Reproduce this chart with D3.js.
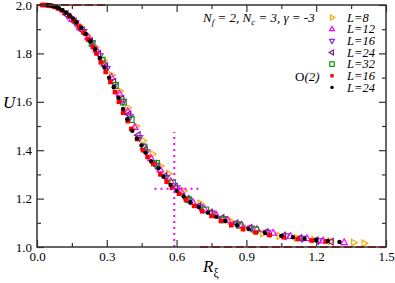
<!DOCTYPE html>
<html>
<head>
<meta charset="utf-8">
<script src="https://cdn.jsdelivr.net/npm/d3@7"></script>
<style>
body { margin: 0; background: #fff; }
svg text { font-family: "Liberation Serif", Tinos, "Times New Roman", Times, "DejaVu Serif", serif !important; fill: #000; }
</style>
</head>
<body>
<div id="chart"></div>
<script>
// FSS data, L = 8..32
var L8_R = [0.18, 0.215, 0.25, 0.285, 0.32, 0.355, 0.39, 0.425, 0.455, 0.496, 0.53, 0.565, 0.63, 0.70, 0.76, 0.83, 0.895, 0.97, 1.04, 1.115, 1.19, 1.26, 1.36, 1.405];
var L8_U = [1.915, 1.875, 1.825, 1.77, 1.71, 1.645, 1.575, 1.50, 1.44, 1.384, 1.335, 1.303, 1.232, 1.18, 1.142, 1.108, 1.078, 1.056, 1.046, 1.038, 1.03, 1.024, 1.018, 1.015];
var L12_R = [0.15, 0.185, 0.22, 0.255, 0.29, 0.32, 0.355, 0.39, 0.42, 0.46, 0.49, 0.53, 0.575, 0.62, 0.67, 0.72, 0.77, 0.82, 0.88, 0.945, 1.015, 1.09, 1.16, 1.23, 1.32];
var L12_U = [1.941, 1.906, 1.865, 1.814, 1.756, 1.70, 1.632, 1.559, 1.494, 1.412, 1.365, 1.318, 1.27, 1.228, 1.184, 1.156, 1.131, 1.11, 1.09, 1.072, 1.057, 1.043, 1.034, 1.025, 1.018];
var L16_R = [0.13, 0.165, 0.20, 0.235, 0.27, 0.30, 0.335, 0.37, 0.40, 0.44, 0.47, 0.51, 0.555, 0.60, 0.65, 0.70, 0.75, 0.80, 0.86, 0.92, 0.99, 1.07, 1.14, 1.21];
var L16_U = [1.958, 1.927, 1.89, 1.844, 1.79, 1.738, 1.672, 1.601, 1.538, 1.452, 1.394, 1.338, 1.288, 1.245, 1.196, 1.166, 1.14, 1.118, 1.096, 1.078, 1.061, 1.046, 1.036, 1.027];
var L24_R = [0.125, 0.16, 0.195, 0.23, 0.265, 0.295, 0.33, 0.365, 0.395, 0.435, 0.465, 0.505, 0.55, 0.595, 0.645, 0.695, 0.745, 0.795, 0.855, 0.915, 0.985, 1.06, 1.13, 1.20, 1.265];
var L24_U = [1.962, 1.932, 1.895, 1.851, 1.798, 1.747, 1.682, 1.611, 1.548, 1.462, 1.403, 1.345, 1.293, 1.25, 1.199, 1.169, 1.142, 1.12, 1.098, 1.079, 1.062, 1.047, 1.037, 1.028, 1.022];
var L32_R = [0.237, 0.28, 0.337, 0.371, 0.405, 0.46, 0.514, 0.583, 0.65, 0.725, 0.80, 0.87, 0.94];
var L32_U = [1.841, 1.772, 1.668, 1.599, 1.527, 1.413, 1.345, 1.265, 1.196, 1.153, 1.112, 1.09, 1.07];
// O(2) model
var O2_16_R = [0.022, 0.032, 0.042, 0.052, 0.062, 0.075, 0.09, 0.105, 0.12, 0.14, 0.16, 0.18, 0.20, 0.22, 0.24, 0.255, 0.275, 0.295, 0.315, 0.335, 0.352, 0.37, 0.39, 0.405, 0.43, 0.455, 0.475, 0.50, 0.53, 0.557, 0.58, 0.61, 0.64, 0.675, 0.71, 0.75, 0.79, 0.835, 0.885, 0.94, 1.0, 1.06, 1.12, 1.18, 1.24];
var O2_16_U = [2.0, 2.0, 1.999, 1.998, 1.996, 1.992, 1.986, 1.978, 1.968, 1.952, 1.933, 1.911, 1.886, 1.858, 1.826, 1.80, 1.763, 1.723, 1.682, 1.64, 1.60, 1.555, 1.52, 1.488, 1.446, 1.40, 1.372, 1.343, 1.30, 1.27, 1.245, 1.22, 1.195, 1.17, 1.148, 1.128, 1.108, 1.09, 1.074, 1.06, 1.049, 1.04, 1.033, 1.027, 1.023];
var O2_24_R = [0.045, 0.055, 0.065, 0.075, 0.085, 0.095, 0.11, 0.125, 0.14, 0.155, 0.17, 0.19, 0.21, 0.23, 0.25, 0.27, 0.29, 0.31, 0.33, 0.35, 0.37, 0.388, 0.41, 0.43, 0.449, 0.466, 0.49, 0.522, 0.544, 0.574, 0.60, 0.63, 0.66, 0.695, 0.735, 0.77, 0.81, 0.86, 0.91, 0.98, 1.05, 1.10, 1.15, 1.20, 1.25, 1.30];
var O2_24_U = [2.0, 1.999, 1.997, 1.995, 1.991, 1.986, 1.978, 1.968, 1.957, 1.944, 1.929, 1.906, 1.88, 1.85, 1.817, 1.78, 1.742, 1.70, 1.66, 1.617, 1.57, 1.528, 1.48, 1.448, 1.42, 1.39, 1.355, 1.325, 1.29, 1.256, 1.232, 1.21, 1.185, 1.165, 1.142, 1.125, 1.108, 1.09, 1.074, 1.058, 1.046, 1.04, 1.034, 1.029, 1.025, 1.021];

var X_TICKS = [0, 0.3, 0.6, 0.9, 1.2, 1.5];
var X_MINOR = [0.15, 0.45, 0.75, 1.05, 1.35];
var Y_TICKS = [1.0, 1.2, 1.4, 1.6, 1.8, 2.0];
var Y_MINOR = [1.1, 1.3, 1.5, 1.7, 1.9];
// guide lines
var DASH_TOP = [[0, 2.0], [0.3, 2.0]];
var DASH_BOT = [[0.7, 1.0], [1.5, 1.0]];
var DOT_V = [[0.59, 1.0], [0.59, 1.475]];
var DOT_H = [[0.505, 1.241], [0.70, 1.241]];

var series = [
    {label: "L=8",  R: L8_R,  U: L8_U,  shape: "tri", rot: 90,  color: "#ffa500"},
    {label: "L=12", R: L12_R, U: L12_U, shape: "tri", rot: 0,   color: "#ff00ff"},
    {label: "L=16", R: L16_R, U: L16_U, shape: "tri", rot: 180, color: "#8a2be2"},
    {label: "L=24", R: L24_R, U: L24_U, shape: "tri", rot: -90, color: "#8b1c8b"},
    {label: "L=32", R: L32_R, U: L32_U, shape: "sq",  rot: 0,   color: "#0a9a0a"},
    {label: "L=16", R: O2_16_R, U: O2_16_U, shape: "fsq", rot: 0, color: "#ff0000"},
    {label: "L=24", R: O2_24_R, U: O2_24_U, shape: "dot", rot: 0, color: "#000000"}
];

var SERIF = "'Liberation Serif', Tinos, 'Times New Roman', Times, 'DejaVu Serif', serif";

var margin = {top: 5, right: 9, bottom: 36, left: 37},
    width = 395 - margin.left - margin.right,
    height = 283 - margin.top - margin.bottom;

var x = d3.scaleLinear().domain([0, 1.5]).range([0, width]);
var y = d3.scaleLinear().domain([1.0, 2.0]).range([height, 0]);

var svg = d3.select("#chart").append("svg")
    .attr("width", 395).attr("height", 283)
    .attr("font-family", SERIF)
    .append("g")
    .attr("transform", "translate(" + margin.left + "," + margin.top + ")");

function triPath(r) {
    return "M0," + (-r) + "L" + (r * 0.87) + "," + (r * 0.5) + "L" + (-r * 0.87) + "," + (r * 0.5) + "Z";
}

function drawMarker(g, s, size) {
    if (s.shape == "tri") {
        g.append("path").attr("d", triPath(size))
            .attr("transform", "rotate(" + s.rot + ")")
            .attr("fill", "none").attr("stroke", s.color).attr("stroke-width", 1.2);
    } else if (s.shape == "sq") {
        g.append("rect").attr("x", -size * 0.8).attr("y", -size * 0.8)
            .attr("width", size * 1.6).attr("height", size * 1.6)
            .attr("fill", "none").attr("stroke", s.color).attr("stroke-width", 1.2);
    } else if (s.shape == "fsq") {
        g.append("rect").attr("x", -size * 0.6).attr("y", -size * 0.6)
            .attr("width", size * 1.2).attr("height", size * 1.2)
            .attr("fill", s.color);
    } else {
        g.append("circle").attr("r", size * 0.5).attr("fill", s.color);
    }
}

// axes, ticks point inward
var fmt = d3.format(".1f");
svg.append("g").attr("class", "axis").attr("transform", "translate(0," + height + ")")
    .call(d3.axisBottom(x).tickValues(X_TICKS).tickFormat(fmt).tickSize(-7).tickSizeOuter(0).tickPadding(5));
svg.append("g").attr("class", "axis").attr("transform", "translate(0," + height + ")")
    .call(d3.axisBottom(x).tickValues(X_MINOR).tickFormat("").tickSize(-4).tickSizeOuter(0));
svg.append("g").attr("class", "axis")
    .call(d3.axisTop(x).tickValues(X_TICKS).tickFormat("").tickSize(-7).tickSizeOuter(0));
svg.append("g").attr("class", "axis")
    .call(d3.axisTop(x).tickValues(X_MINOR).tickFormat("").tickSize(-4).tickSizeOuter(0));
svg.append("g").attr("class", "axis")
    .call(d3.axisLeft(y).tickValues(Y_TICKS).tickFormat(fmt).tickSize(-7).tickSizeOuter(0).tickPadding(5));
svg.append("g").attr("class", "axis")
    .call(d3.axisLeft(y).tickValues(Y_MINOR).tickFormat("").tickSize(-4).tickSizeOuter(0));
svg.append("g").attr("class", "axis").attr("transform", "translate(" + width + ",0)")
    .call(d3.axisRight(y).tickValues(Y_TICKS).tickFormat("").tickSize(-7).tickSizeOuter(0));
svg.append("g").attr("class", "axis").attr("transform", "translate(" + width + ",0)")
    .call(d3.axisRight(y).tickValues(Y_MINOR).tickFormat("").tickSize(-4).tickSizeOuter(0));

svg.selectAll(".axis").attr("font-family", SERIF);
svg.selectAll(".axis .domain").remove();
svg.selectAll(".axis line").attr("stroke", "#333").attr("stroke-width", 1.2);
svg.selectAll(".axis text").attr("font-size", 13).attr("fill", "#000");

// data points
var line = d3.line().x(function(d) { return x(d[0]); }).y(function(d) { return y(d[1]); });
var sizes = {tri: 3.8, sq: 3.6, fsq: 3.8, dot: 4.4};

series.forEach(function(s) {
    var pts = s.R.map(function(r, i) { return [r, s.U[i]]; });
    var g = svg.append("g");
    pts.forEach(function(p) {
        var m = g.append("g").attr("transform", "translate(" + x(p[0]) + "," + y(p[1]) + ")");
        drawMarker(m, s, sizes[s.shape]);
    });
});

// guide lines
svg.append("path").attr("d", line(DASH_TOP)).attr("stroke", "#ff0000").attr("stroke-width", 2.2)
    .attr("stroke-dasharray", "8,4").attr("fill", "none");
svg.append("path").attr("d", line(DASH_BOT)).attr("stroke", "#ff0000").attr("stroke-width", 2.2)
    .attr("stroke-dasharray", "8,4").attr("fill", "none");
svg.append("path").attr("d", line(DOT_V)).attr("stroke", "#ff00ff").attr("stroke-width", 2)
    .attr("stroke-dasharray", "2,4").attr("fill", "none");
svg.append("path").attr("d", line(DOT_H)).attr("stroke", "#ff00ff").attr("stroke-width", 2)
    .attr("stroke-dasharray", "2,4").attr("fill", "none");

// frame
svg.append("rect").attr("width", width).attr("height", height)
    .attr("fill", "none").attr("stroke", "#333").attr("stroke-width", 1.5);

// axis titles
svg.append("text").attr("x", -34).attr("y", 103).attr("font-size", 17).attr("font-style", "italic").text("U");
var rx = svg.append("text").attr("x", 166).attr("y", 267).attr("font-size", 17).attr("font-style", "italic");
rx.append("tspan").text("R");
rx.append("tspan").attr("dy", 5).attr("font-size", 12).attr("font-style", "normal").text("ξ");

// legend
var title = svg.append("text").attr("x", 166).attr("y", 17).attr("font-size", 13).attr("font-style", "italic");
title.append("tspan").text("N");
title.append("tspan").attr("dy", 3).attr("font-size", 9).text("f");
title.append("tspan").attr("dy", -3).text(" = 2, N");
title.append("tspan").attr("dy", 3).attr("font-size", 9).text("c");
title.append("tspan").attr("dy", -3).text(" = 3, γ = -3");

var leg = svg.append("g").attr("transform", "translate(295,12.5)");
series.forEach(function(s, i) {
    var m = leg.append("g").attr("transform", "translate(0," + (i * 11.65) + ")");
    drawMarker(m, s, s.shape == "dot" ? 3.4 : 2.8);
    leg.append("text").attr("x", 15).attr("y", i * 11.65 + 4.2)
        .attr("font-size", 12.5).attr("font-style", "italic").text(s.label);
});
var o2 = svg.append("text").attr("x", 258).attr("y", 75.5).attr("font-size", 13);
o2.append("tspan").text("O");
o2.append("tspan").attr("font-style", "italic").text("(2)");
</script>
</body>
</html>
